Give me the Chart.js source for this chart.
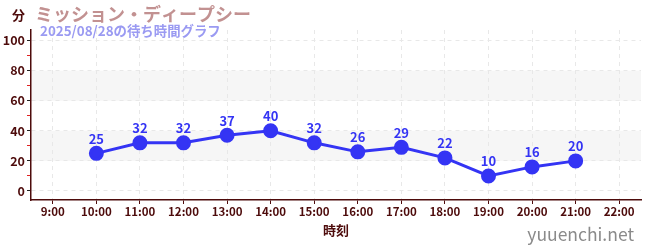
<!DOCTYPE html>
<html>
<head>
<meta charset="utf-8">
<script src="https://cdn.jsdelivr.net/npm/chart.js@4"></script>
<style>
    body { margin: 0; background: #fff; }
    #wrap { width: 650px; height: 250px; position: relative; }
</style>
</head>
<body>
<div id="wrap"><canvas id="chart"></canvas></div>
<script>
let hours = ["9:00", "10:00", "11:00", "12:00", "13:00", "14:00", "15:00", "16:00", "17:00", "18:00", "19:00", "20:00", "21:00", "22:00"];
let waits = [null, 25, 32, 32, 37, 40, 32, 26, 29, 22, 10, 16, 20, null];
let yTicks = [0, 10, 20, 30, 40, 50, 60, 70, 80, 90, 100];
let bands = [[20, 40], [60, 80]];
let yMin = -6, yMax = 107;

let title = "ミッション・ディープシー";
let subtitle = "2025/08/28の待ち時間グラフ";
let unit = "分";
let site = "yuuenchi.net";

const FONT = "'Noto Sans CJK JP', 'Noto Sans', sans-serif";
const DARK = "#4d0b0b";
const BLUE = "#3434f4";

// shaded bands behind the grid
const bandPlugin = {
    id: "bands",
    beforeDraw(c) {
        const {ctx, chartArea, scales} = c;
        ctx.save();
        ctx.fillStyle = "#f6f6f6";
        bands.forEach(b => {
            let top = scales.y.getPixelForValue(b[1]);
            let bottom = scales.y.getPixelForValue(b[0]);
            ctx.fillRect(chartArea.left, top, chartArea.right - chartArea.left, bottom - top);
        });
        ctx.restore();
    }
};

// value labels above points + header texts
const textPlugin = {
    id: "texts",
    afterDatasetsDraw(c) {
        const ctx = c.ctx;
        const meta = c.getDatasetMeta(0);
        ctx.save();
        ctx.font = "bold 13px " + FONT;
        ctx.fillStyle = BLUE;
        ctx.textAlign = "center";
        ctx.textBaseline = "bottom";
        meta.data.forEach((pt, i) => {
            if (waits[i] === null) return;
            ctx.fillText(waits[i], pt.x, pt.y - 8);
        });
        ctx.restore();
    },
    afterDraw(c) {
        const ctx = c.ctx;
        ctx.save();
        ctx.textBaseline = "middle";
        ctx.textAlign = "left";
        ctx.font = "bold 13px " + FONT;
        ctx.fillStyle = DARK;
        ctx.fillText(unit, 12, 15);
        ctx.font = "bold 18px " + FONT;
        ctx.fillStyle = "#c29191";
        ctx.fillText(title, 35, 14);
        ctx.font = "bold 13.4px " + FONT;
        ctx.fillStyle = "#9a9af2";
        ctx.fillText(subtitle, 40, 31);
        ctx.font = "17.5px " + FONT;
        ctx.fillStyle = "#8a8a8a";
        ctx.textAlign = "right";
        ctx.fillText(site, 634, 234);
        ctx.restore();
    }
};

let chart = new Chart(document.getElementById("chart"), {
    type: "line",
    data: {
        labels: hours,
        datasets: [{
            data: waits,
            borderColor: BLUE,
            backgroundColor: BLUE,
            borderWidth: 3,
            pointRadius: 6,
            pointHoverRadius: 6,
            fill: false,
            tension: 0,
        }]
    },
    options: {
        responsive: true,
        maintainAspectRatio: false,
        animation: false,
        events: [],
        layout: { padding: { top: 30, right: 9, left: 0, bottom: 0 } },
        plugins: {
            legend: { display: false },
            tooltip: { enabled: false },
        },
        scales: {
            x: {
                offset: true,
                grid: {
                    color: "#e8e8e8",
                    tickColor: DARK,
                    tickLength: 4,
                    offset: false,
                },
                border: { color: DARK, width: 1.5, dash: [4, 4] },
                ticks: {
                    color: DARK,
                    font: { family: FONT, size: 11.5, weight: "bold" },
                    padding: 1,
                    maxRotation: 0,
                    autoSkip: false,
                },
                title: {
                    display: true,
                    text: "時刻",
                    color: DARK,
                    font: { family: FONT, size: 13, weight: "bold" },
                    padding: { top: 6, bottom: 12 },
                },
                afterFit(scale) { scale.height = 50; },
            },
            y: {
                min: yMin,
                max: yMax,
                afterBuildTicks(scale) {
                    scale.ticks = yTicks.map(v => ({ value: v }));
                },
                grid: {
                    color: ctx => ctx.tick && ctx.tick.value % 20 === 0 ? "#e8e8e8" : "rgba(0,0,0,0)",
                    tickColor: ctx => ctx.tick && ctx.tick.value % 20 === 0 ? "#222" : "#e02020",
                    tickLength: 4,
                },
                border: { color: DARK, width: 1.5, dash: [4, 4] },
                ticks: {
                    autoSkip: false,
                    color: DARK,
                    padding: 2,
                    font: { family: FONT, size: 12.5, weight: "bold" },
                    callback: v => v % 20 === 0 ? String(v) : "",
                },
                afterFit(scale) { scale.width = 31; },
            }
        }
    },
    plugins: [bandPlugin, textPlugin]
});
</script>
</body>
</html>
